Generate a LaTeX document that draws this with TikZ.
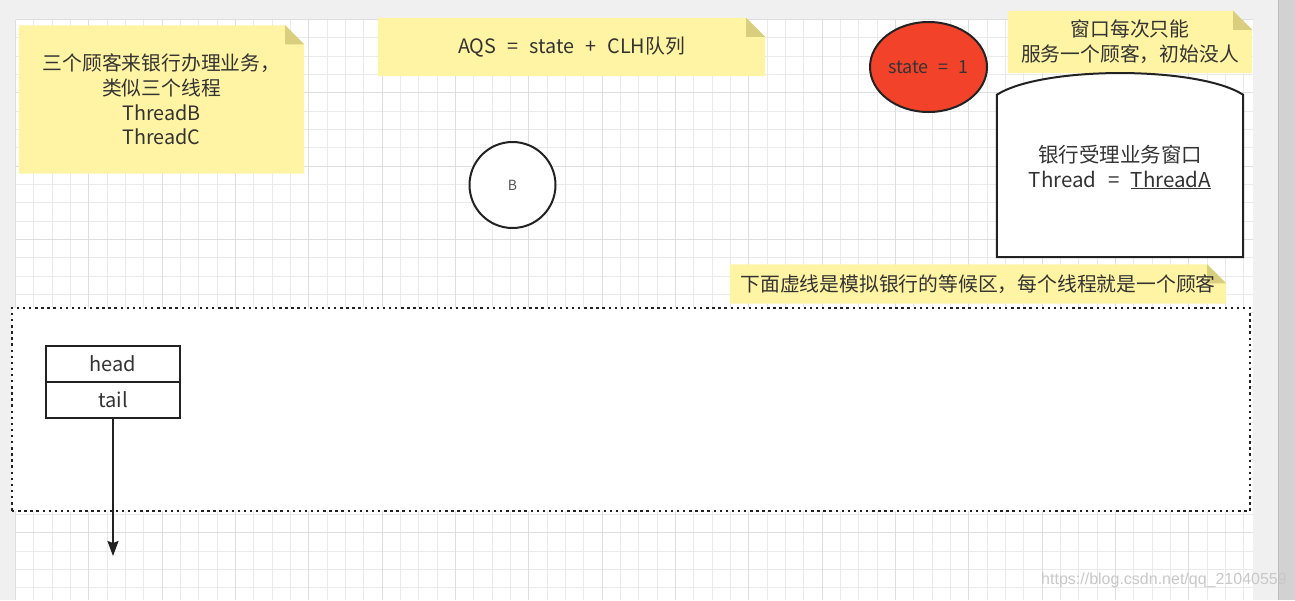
\documentclass[tikz,border=0pt]{standalone}
\usepackage{fontspec}
\setmainfont{Noto Sans CJK SC}[WordSpace=2.5]
\newfontfamily\wmfont{Liberation Sans}
\usetikzlibrary{arrows.meta,shapes.geometric}
\pgfdeclarelayer{bglayer}
\pgfsetlayers{bglayer,main}
\definecolor{notey}{HTML}{FFF4A3}
\definecolor{foldc}{HTML}{D8CE7E}
\definecolor{txt}{HTML}{333333}
\definecolor{pagebg}{HTML}{F0F0F0}
\definecolor{gridminor}{HTML}{EAEAEA}
\definecolor{gridmajor}{HTML}{DEDEDE}
\definecolor{redst}{HTML}{F2432A}
\definecolor{lineblk}{HTML}{222222}
\definecolor{scrollc}{HTML}{D2D2D2}
\definecolor{scrolledge}{HTML}{BEBEBE}
\definecolor{bgrey}{HTML}{555555}
\definecolor{wmc}{HTML}{C8C8C8}
\tikzset{
  notebox/.style={inner sep=0pt, align=center, text=txt, font=\fontsize{19.8}{24.8}\selectfont},
  shapeline/.style={draw=lineblk, line width=2},
  cell/.style={shapeline, fill=white, minimum width=134pt, minimum height=36pt, inner sep=0pt, text=txt, font=\fontsize{20}{24}\selectfont},
  conn/.style={draw=lineblk, line width=2, -{Stealth[length=15pt,width=11pt,inset=2pt]}},
  dottedbox/.style={draw=lineblk, line width=2.4, dash pattern=on 2.4pt off 3.7pt, fill=white},
  minorgrid/.style={draw=gridminor, line width=1},
  majorgrid/.style={draw=gridmajor, line width=1.2},
}
\newcommand{\notefill}[1]{%
  \fill[notey] (#1.north west) -- ([xshift=-19pt]#1.north east) -- ([yshift=-19pt]#1.north east) -- (#1.south east) -- (#1.south west) -- cycle;
  \fill[foldc] ([xshift=-19pt]#1.north east) -- ([xshift=-19pt,yshift=-19pt]#1.north east) -- ([yshift=-19pt]#1.north east) -- cycle;}
\begin{document}
\begin{tikzpicture}[x=1pt,y=-1pt]
\useasboundingbox (0,0) rectangle (1295,600);
\begin{pgfonlayer}{bglayer}
  \fill[pagebg] (0,0) rectangle (1295,600);
  \fill[white] (15.5,19.5) rectangle (1253,600);
  \foreach \i in {0,...,67} {\draw[minorgrid] ({15.5+\i*18.333},19.5) -- ({15.5+\i*18.333},600);}
  \foreach \j in {0,...,31} {\draw[minorgrid] (15.5,{19.5+\j*18.333}) -- (1253,{19.5+\j*18.333});}
  \foreach \i in {0,...,16} {\draw[majorgrid] ({15.5+\i*73.333},19.5) -- ({15.5+\i*73.333},600);}
  \foreach \j in {0,...,7} {\draw[majorgrid] (15.5,{19.5+\j*73.333}) -- (1253,{19.5+\j*73.333});}
  \fill[scrollc] (1278,0) rectangle (1295,600);
  \draw[scrolledge, line width=1] (1278,0) -- (1278,600);
\end{pgfonlayer}

% notes
\node[notebox, minimum width=285pt, minimum height=148pt] (n1) at (161.5,99.5) {三个顾客来银行办理业务，\\类似三个线程\\ThreadB\\ThreadC};
\node[notebox, minimum width=387pt, minimum height=58pt] (n2) at (571.5,47) {AQS = state + CLH队列};
\node[notebox, minimum width=244pt, minimum height=62pt] (n3) at (1130,42) {窗口每次只能\\服务一个顾客，初始没人};
\node[notebox, minimum width=496pt, minimum height=39pt] (n4) at (978,284) {下面虚线是模拟银行的等候区，每个线程就是一个顾客};

% circle B
\node[shapeline, fill=white, circle, minimum size=86pt, inner sep=0pt, text=bgrey, font=\fontsize{14}{16}\selectfont] (b) at (512.5,185) {B};

% state ellipse
\node[shapeline, fill=redst, ellipse, minimum width=117pt, minimum height=90pt, inner sep=0pt, text=txt, font=\fontsize{18}{20}\selectfont] (st) at (928.5,67) {state = 1};

% window
\node[minimum width=246pt, minimum height=162pt, inner sep=0pt] (win) at (1120,176) {};
\node[notebox, font=\fontsize{20.5}{25}\selectfont] (wintext) at (1120,167) {银行受理业务窗口\\Thread = \underline{ThreadA}};

% waiting area
\node[dottedbox, minimum width=1238pt, minimum height=203pt, inner sep=0pt] (wait) at (631,409.5) {};

% head / tail
\node[cell] (head) at (113,364) {head};
\node[cell] (tail) at (113,400) {tail};
\coordinate (tend) at (113,556);
\draw[conn] (tail.south) -- (tend);

\begin{pgfonlayer}{bglayer}
  \notefill{n1}
  \notefill{n2}
  \notefill{n3}
  \notefill{n4}
  \filldraw[shapeline, fill=white] (win.south west) -- (win.north west) .. controls ([xshift=45pt,yshift=29pt]win.north west) and ([xshift=-45pt,yshift=29pt]win.north east) .. (win.north east) -- (win.south east) -- cycle;
\end{pgfonlayer}

% watermark
\node[text=wmc, font=\wmfont\fontsize{16}{18}\selectfont, inner sep=0pt] (wm) at (1164,580) {https://blog.csdn.net/qq\_21040559};
\end{tikzpicture}
\end{document}
